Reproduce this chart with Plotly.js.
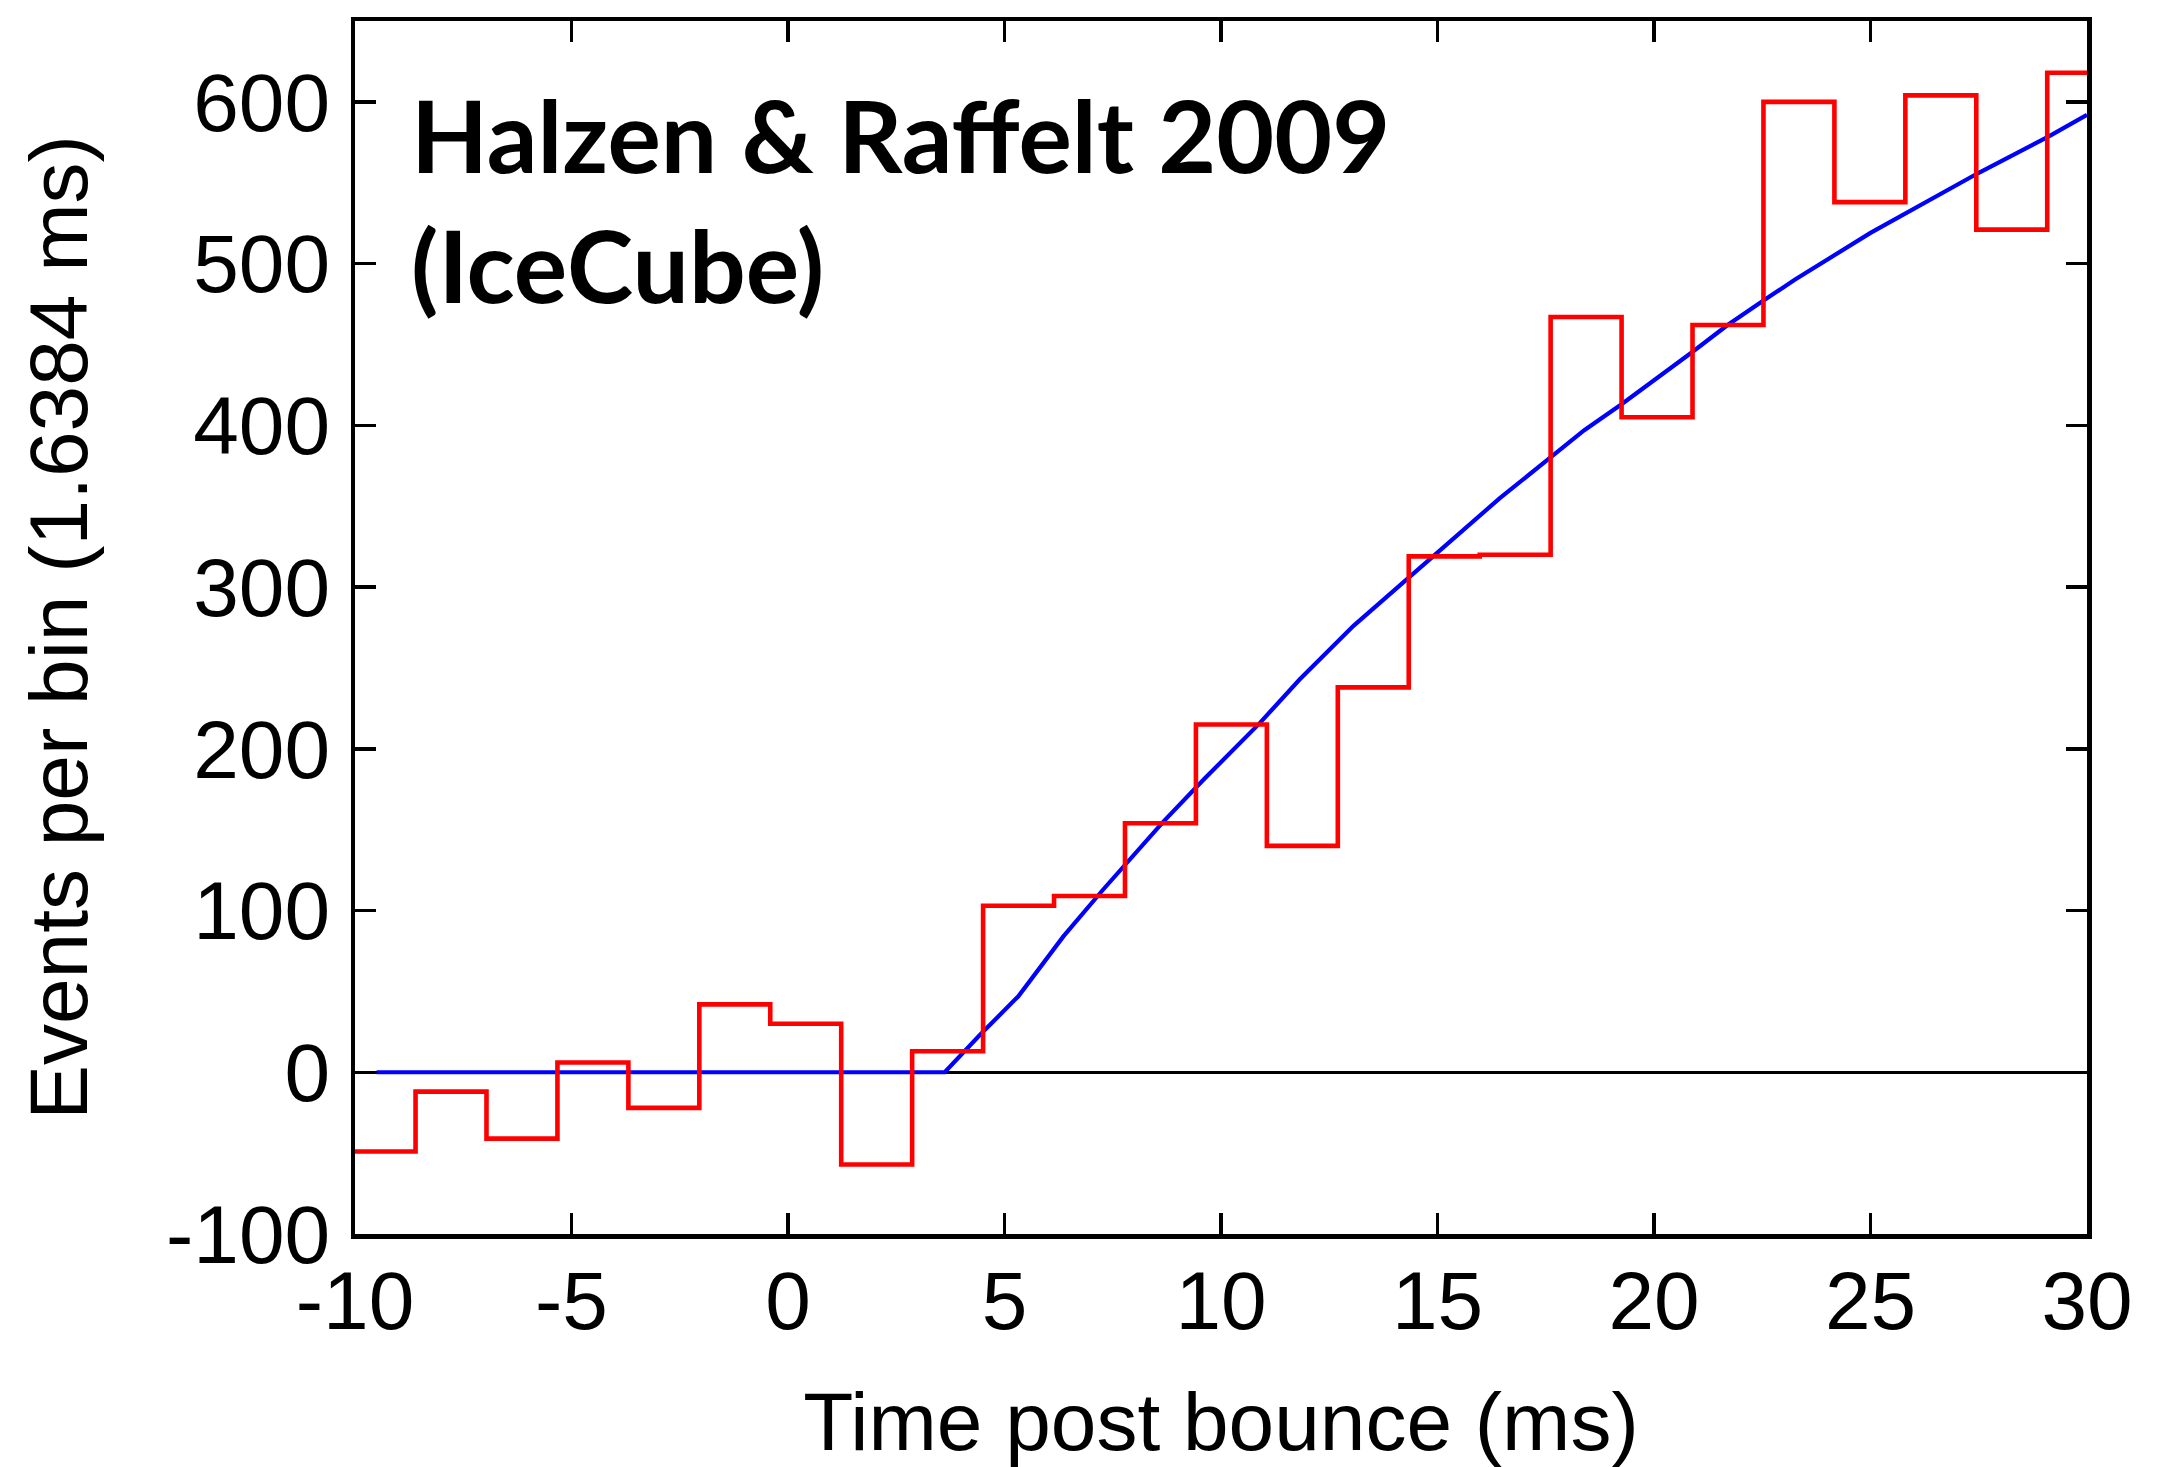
<!DOCTYPE html>
<html>
<head>
<meta charset="utf-8">
<script src="https://cdn.plot.ly/plotly-3.0.1.min.js"></script>
<style>
  html, body { margin: 0; padding: 0; background: #fff; }
  #chart { width: 2157px; height: 1467px; }
</style>
</head>
<body>
<div id="chart"></div>
<script>
// Histogram bin width (ms) and left edges of the bins
const binWidth = 1.6384;
const binEdges = [-10.24, -8.6016, -6.9632, -5.3248, -3.6864, -2.048, -0.4096, 1.2288,
  2.8672, 4.5056, 6.144, 7.7824, 9.4208, 11.0592, 12.6976, 14.336, 15.9744, 17.6128,
  19.2512, 20.8896, 22.528, 24.1664, 25.8048, 27.4432, 29.0816, 30.72];
// Events per bin (red histogram)
const binCounts = [-49, -12, -41, 6, -22, 42, 30, -57, 13, 103, 109, 154, 215, 140,
  238, 319, 320, 467, 405, 462, 600, 538, 604, 521, 618];

// Expected signal (blue curve)
const modelTime = [-9.5, 3.62, 4.43, 5.32, 6.36, 7.28, 8.67, 9.6, 10.9, 11.82, 13.06, 14.29,
  14.9, 16.44, 18.39, 19.25, 20.87, 21.7, 22.52, 23.25, 25.0, 26.65, 27.49, 29.14, 30.0];
const modelCounts = [0, 0, 23, 47, 84, 113, 155, 181, 216, 243, 276, 305,
  319, 355, 397, 413, 445, 462, 477, 490, 519, 544, 556, 579, 592];

const xTickVals = [-10, -5, 0, 5, 10, 15, 20, 25, 30];
const yTickVals = [-100, 0, 100, 200, 300, 400, 500, 600];

const titleText = "Halzen & Raffelt 2009<br>(IceCube)";
const xTitle = "Time post bounce (ms)";
const yTitle = "Events per bin (1.6384 ms)";

// step trace: repeat last value at the final edge
const histY = binCounts.concat([binCounts[binCounts.length - 1]]);

const traces = [
  {
    x: modelTime, y: modelCounts, type: 'scatter', mode: 'lines',
    line: { color: '#0000ff', width: 4.2 }, hoverinfo: 'skip'
  },
  {
    x: binEdges, y: histY, type: 'scatter', mode: 'lines',
    line: { color: '#ff0000', width: 4.6, shape: 'hv' }, hoverinfo: 'skip'
  }
];

const tickFont = { family: 'Liberation Sans, Arial, sans-serif', size: 82, color: '#000' };
const axisTitleFont = { family: 'Liberation Sans, Arial, sans-serif', size: 82, color: '#000' };

const layout = {
  width: 2157, height: 1467,
  margin: { l: 355, r: 70, t: 21, b: 233 },
  paper_bgcolor: '#fff', plot_bgcolor: '#fff',
  showlegend: false,
  xaxis: {
    range: [-10, 30], tickvals: xTickVals, ticktext: xTickVals.map(String),
    ticks: 'inside', ticklen: 21, tickwidth: 3.5, tickcolor: '#000',
    showline: true, linewidth: 4.5, linecolor: '#000', mirror: 'ticks',
    showgrid: false, zeroline: false,
    tickfont: tickFont, ticklabelstandoff: -8,
    title: { text: xTitle, font: axisTitleFont, standoff: 56 }
  },
  yaxis: {
    range: [-100, 650], tickvals: yTickVals, ticktext: yTickVals.map(String),
    ticks: 'inside', ticklen: 21, tickwidth: 3.5, tickcolor: '#000',
    showline: true, linewidth: 4.5, linecolor: '#000', mirror: 'ticks',
    showgrid: false, zeroline: true, zerolinecolor: '#000', zerolinewidth: 2.5,
    tickfont: tickFont, ticklabelstandoff: 4,
    title: { text: yTitle, font: axisTitleFont, standoff: 53 }
  },
  annotations: [{
    text: titleText, xref: 'paper', yref: 'paper',
    x: 0.031, y: 0.958, xanchor: 'left', yanchor: 'top', align: 'left',
    showarrow: false,
    font: { family: 'Lato, Open Sans, sans-serif', size: 100, color: '#000', weight: 'bold' }
  }]
};

Plotly.newPlot('chart', traces, layout, { staticPlot: true, displayModeBar: false });
</script>
</body>
</html>
